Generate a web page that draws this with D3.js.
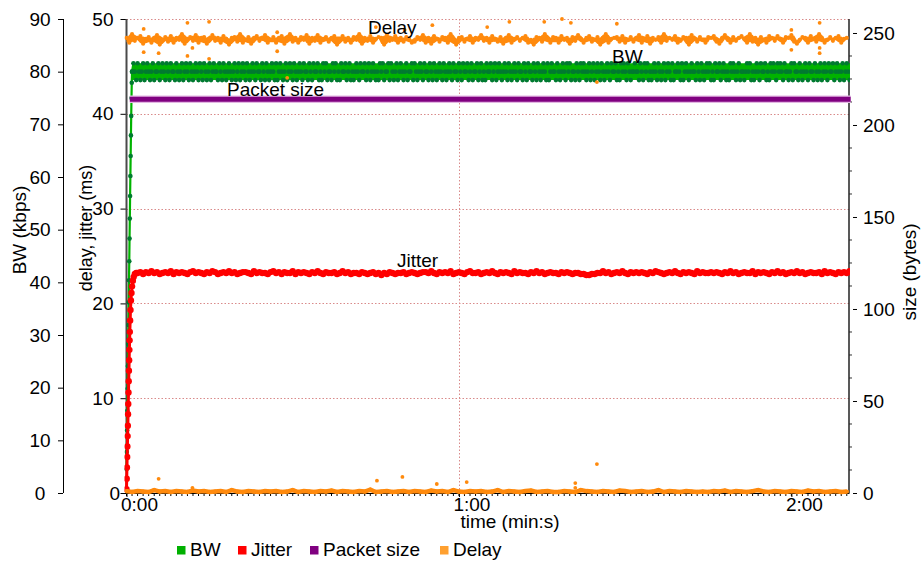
<!DOCTYPE html>
<html><head><meta charset="utf-8">
<script src="https://cdn.jsdelivr.net/npm/d3@7/dist/d3.min.js"></script>
<style>
html,body{margin:0;padding:0;background:#fff;}
svg{display:block;}
</style></head><body>
<svg id="chart" width="921" height="562"></svg>
<script>
// ---------- data ----------
const timeTicks = [0, 60, 120];
const timeTickLabels = ["0:00", "1:00", "2:00"];
const timeGridTicks = [60];
const bwTicks = [0, 10, 20, 30, 40, 50, 60, 70, 80, 90];
const msTicks = [0, 10, 20, 30, 40, 50];
const sizeTicks = [0, 50, 100, 150, 200, 250];
const seriesNames = ["BW", "Jitter", "Packet size", "Delay"];

// BW (kbps): start-up ramp, then steady samples every 0.25 s from t = 1.0 s
const bwRampTime  = [0.00,0.05,0.10,0.15,0.20,0.25,0.30,0.35,0.40,0.45,0.50,0.55,0.60,0.65,0.70,0.75,0.80,0.85,0.90,0.95,1.00];
const bwRampValue = [4.5,7.8,11.9,15.6,19.8,24.1,28.3,31.9,36.2,40.4,44.0,48.3,52.1,56.4,60.2,64.0,67.9,71.6,75.0,77.9,80.0];
const bwStart = 1.0, bwStep = 0.25;
const bwValues = [
80,81.6,80,78.4,81.6,80,78.4,80,81.6,78.4,80,81.6,80,78.4,80,81.6,78.4,80,80,81.6,78.4,80,81.6,80,78.4,81.6,
80,78.4,81.6,80,80,78.4,81.6,80,78.4,80,81.6,78.4,80,81.6,80,78.4,81.6,80,78.4,80,81.6,80,78.4,81.6,80,78.4,
81.6,80,78.4,80,81.6,78.4,80,81.6,80,80,78.4,81.6,80,78.4,81.6,80,78.4,80,81.6,80,78.4,80,81.6,78.4,80,81.6,
78.4,80,81.6,80,78.4,81.6,80,78.4,80,81.6,80,78.4,81.6,80,80,78.4,81.6,80,78.4,81.6,80,78.4,80,81.6,80,78.4,
81.6,78.4,80,81.6,80,78.4,80,81.6,78.4,80,81.6,80,78.4,81.6,80,78.4,80,81.6,80,78.4,81.6,80,80,78.4,81.6,80,
78.4,81.6,80,80,81.6,78.4,80,78.4,81.6,80,81.6,78.4,80,80,78.4,81.6,80,81.6,78.4,80,78.4,81.6,80,80,81.6,78.4,
80,81.6,78.4,80,78.4,80,81.6,80,78.4,81.6,80,80,81.6,78.4,80,81.6,78.4,80,81.6,80,78.4,80,78.4,81.6,80,81.6,
78.4,80,80,81.6,78.4,81.6,80,78.4,80,81.6,78.4,80,81.6,80,78.4,80,81.6,78.4,80,80,81.6,78.4,81.6,80,78.4,80,
81.6,80,78.4,81.6,80,80,78.4,81.6,80,78.4,81.6,80,78.4,80,81.6,80,78.4,81.6,80,78.4,80,81.6,80,78.4,81.6,80,
80,78.4,81.6,80,78.4,81.6,80,80,81.6,78.4,80,81.6,78.4,80,80,81.6,78.4,80,81.6,78.4,80,78.4,81.6,80,80,81.6,
78.4,80,81.6,78.4,80,81.6,80,78.4,80,81.6,80,78.4,81.6,80,78.4,80,81.6,80,78.4,81.6,80,80,78.4,81.6,80,78.4,
81.6,80,80,78.4,81.6,80,78.4,81.6,80,78.4,80,81.6,80,78.4,81.6,78.4,80,81.6,80,80,78.4,81.6,80,78.4,80,81.6,
80,78.4,81.6,80,81.6,78.4,80,80,78.4,81.6,80,78.4,81.6,80,81.6,80,78.4,80,81.6,78.4,80,81.6,78.4,80,81.6,80,
78.4,81.6,80,78.4,80,81.6,80,78.4,81.6,80,80,81.6,78.4,80,78.4,81.6,80,81.6,80,78.4,81.6,80,78.4,80,80,81.6,
80,80,78.4,81.6,80,78.4,81.6,80,81.6,78.4,80,78.4,80,81.6,80,78.4,81.6,80,78.4,80,81.6,78.4,80,81.6,80,78.4,
81.6,78.4,80,80,81.6,80,78.4,81.6,78.4,80,81.6,80,78.4,80,81.6,80,80,78.4,81.6,80,78.4,81.6,80,78.4,80,81.6,
80,81.6,78.4,80,78.4,81.6,80,80,81.6,78.4,80,81.6,80,78.4,80,78.4,81.6,80,81.6,80,78.4,80,81.6,78.4,80,80,
78.4,80,81.6,80,81.6,78.4,80,78.4,80,81.6,80,78.4,81.6,80,80,81.6,78.4,80,78.4,81.6,80,81.6,80,78.4,81.6,80,
81.6,80,78.4,81.6,80,80,78.4,80,81.6,78.4,81.6,80,80,78.4,81.6,80,78.4,80,81.6,80,78.4,81.6,80,80,78.4,81.6,
80,78.4,80,81.6,78.4,80,81.6,80,78.4,81.6,80,80,81.6,78.4,80,81.6,80,78.4,80,81.6,78.4,80,81.6,80,78.4,80
];

// Jitter (ms): start-up ramp, then samples every 0.5 s from t = 2.0 s
const jitterRampTime  = [0.00,0.04,0.08,0.12,0.16,0.20,0.24,0.28,0.32,0.36,0.40,0.44,0.48,0.52,0.56,0.60,0.66,0.72,0.80,0.90,1.00,1.15,1.30,1.50,1.75];
const jitterRampValue = [0.4,1.5,2.7,3.8,4.9,6.0,7.1,8.3,9.4,10.6,11.8,12.9,14.0,15.1,16.1,17.0,18.2,19.3,20.3,21.1,21.8,22.4,22.8,23.1,23.2];
const jitterStart = 2.0, jitterStep = 0.5;
const jitterValues = [
23.2,23.3,23.1,23.3,23.2,23.4,23.2,23.3,23.1,23.2,23.3,23.2,23.4,23.1,23.3,23.2,23.3,23.2,23.1,23.3,23.4,23.2,23.3,23.2,23.1,23.3,
23.2,23.4,23.3,23.1,23.2,23.3,23.2,23.4,23.2,23.3,23.1,23.2,23.3,23.3,23.2,23.1,23.4,23.2,23.3,23.2,23.2,23.1,23.3,23.4,23.2,23.3,
23.1,23.3,23.2,23.2,23.4,23.1,23.3,23.2,23.3,23.2,23.1,23.3,23.2,23.4,23.2,23.1,23.3,23.2,23.2,23.3,23.1,23.2,23.4,23.2,23.3,23.1,
23.2,23.2,23.1,23.3,23.2,23.1,23.2,23.3,23.1,23.2,23.0,23.2,23.1,23.3,23.2,23.1,23.2,23.2,23.3,23.1,23.2,23.3,23.2,23.1,23.2,23.3,
23.3,23.2,23.4,23.2,23.1,23.3,23.2,23.3,23.2,23.4,23.1,23.2,23.3,23.2,23.1,23.3,23.4,23.2,23.2,23.3,23.1,23.2,23.3,23.2,23.4,23.2,
23.1,23.3,23.2,23.3,23.2,23.1,23.4,23.2,23.3,23.2,23.2,23.1,23.3,23.2,23.4,23.2,23.3,23.1,23.2,23.3,23.2,23.2,23.1,23.3,23.2,23.3,
23.2,23.1,23.2,23.2,23.1,23.1,23.0,23.0,23.1,23.1,23.2,23.2,23.4,23.2,23.3,23.1,23.2,23.3,23.2,23.4,23.2,23.1,23.3,23.2,23.3,23.2,
23.3,23.2,23.1,23.3,23.2,23.4,23.3,23.2,23.1,23.2,23.3,23.2,23.4,23.2,23.1,23.3,23.2,23.3,23.2,23.1,23.4,23.2,23.3,23.2,23.2,23.3,
23.2,23.3,23.2,23.1,23.3,23.2,23.4,23.2,23.3,23.1,23.2,23.3,23.2,23.2,23.4,23.1,23.3,23.2,23.3,23.2,23.1,23.3,23.2,23.4,23.2,23.3,
23.1,23.2,23.3,23.2,23.4,23.2,23.3,23.1,23.2,23.3,23.2,23.2,23.3,23.1,23.4,23.2,23.3,23.2,23.1,23.3,23.2,23.3,23.2,23.4,23.2,23.3
];

// Packet size (bytes)
const packetSizeTime  = [0.6, 130.7];
const packetSizeValue = [214, 214];

// Delay (ms): samples every 0.5 s from t = 0
const delayStart = 0, delayStep = 0.5;
const delayValues = [
48.0,47.5,48.4,47.7,48.0,48.2,47.4,47.9,48.1,47.5,48.0,48.3,47.3,47.8,48.1,47.6,48.2,47.5,48.0,47.8,48.4,47.4,47.9,48.1,47.7,48.3,
47.5,48.0,48.1,47.4,47.8,48.3,47.7,48.0,47.5,48.2,47.9,47.3,48.0,48.1,47.6,48.4,47.5,47.8,48.1,47.4,48.0,48.2,47.7,47.9,48.3,47.5,
47.8,48.1,47.5,48.0,48.2,47.4,47.9,48.4,47.6,48.0,47.5,48.1,47.8,48.3,47.4,48.0,47.7,48.3,47.5,47.9,48.1,47.6,48.0,48.2,47.3,47.8,
48.2,47.6,48.0,47.5,48.1,47.8,48.4,47.4,48.0,47.7,48.2,47.5,47.9,48.1,48.0,47.3,48.3,47.7,47.8,48.2,47.5,48.0,47.6,48.1,47.9,47.5,
47.6,48.1,47.8,48.3,47.5,48.0,47.4,48.2,47.9,47.6,48.1,48.0,47.5,48.4,47.8,47.3,48.0,48.1,47.6,47.9,48.2,47.5,48.0,47.8,48.3,47.7,
48.0,47.5,48.2,47.8,47.6,48.1,47.4,48.0,48.3,47.5,47.9,48.1,47.7,48.0,48.2,47.5,47.8,47.3,48.1,48.0,47.6,48.4,47.9,47.5,48.1,48.0,
47.5,48.2,47.8,48.0,47.4,48.1,47.7,48.3,47.9,47.5,48.0,48.2,47.6,47.8,48.1,47.3,48.0,48.4,47.5,47.9,48.0,48.1,47.6,48.2,47.5,47.8,
48.1,47.6,48.0,48.3,47.5,47.9,48.2,47.4,48.0,47.8,48.1,47.5,48.4,47.7,48.0,47.8,48.2,47.5,47.7,48.1,48.0,47.3,48.3,47.9,47.6,48.1,
47.8,47.5,48.1,48.0,48.2,47.6,47.4,48.0,48.3,47.8,47.5,48.1,47.7,48.0,48.2,47.9,47.5,48.4,47.6,48.0,47.3,48.1,47.8,47.5,48.2,48.0,
47.7,48.2,47.9,47.5,48.1,48.0,48.3,47.6,47.4,47.8,48.1,48.0,47.5,48.2,47.9,47.6,48.4,48.0,47.5,47.8,48.1,47.7,48.0,48.2,47.5,47.9,
48.0
];
const delayOutlierTime  = [3.1,3.1,5.8,11.0,11.0,11.9,14.9,14.9,27.2,27.2,29.0,45.0,50.2,55.2,65.1,69.1,75.4,78.6,80.2,84.9,88.5,120.0,120.0,125.1,125.1,125.1];
const delayOutlierValue = [48.95,46.5,46.4,49.6,46.1,46.95,49.7,45.8,48.6,46.6,43.8,49.15,48.85,49.35,49.15,49.7,49.7,50.0,49.6,43.35,49.5,48.85,46.75,49.6,46.95,46.4];

// Delay, lower trace (ms): samples every 1 s from t = 0
const delayLowStart = 0, delayLowStep = 1;
const delayLowValues = [
0.2,0.1,0.2,0.15,0.1,0.3,0.15,0.2,0.1,0.2,0.15,0.1,0.25,0.15,0.2,0.1,0.15,0.2,0.1,0.3,0.15,0.1,0.2,0.15,0.1,0.2,
0.15,0.2,0.1,0.15,0.3,0.1,0.2,0.15,0.1,0.2,0.15,0.25,0.1,0.2,0.15,0.1,0.2,0.15,0.35,0.1,0.15,0.2,0.1,0.15,0.2,0.1,
0.2,0.15,0.1,0.25,0.15,0.2,0.1,0.3,0.15,0.1,0.2,0.15,0.2,0.1,0.15,0.3,0.1,0.2,0.15,0.1,0.2,0.25,0.1,0.15,0.2,0.1,
0.1,0.2,0.15,0.1,0.3,0.2,0.15,0.1,0.2,0.15,0.1,0.25,0.2,0.1,0.15,0.2,0.1,0.15,0.3,0.1,0.2,0.15,0.1,0.2,0.15,0.1,
0.15,0.1,0.2,0.15,0.25,0.1,0.2,0.15,0.1,0.2,0.3,0.15,0.1,0.2,0.15,0.1,0.2,0.15,0.1,0.25,0.15,0.2,0.1,0.15,0.2,0.1,
0.15
];
const delayLowOutlierTime  = [5.8, 11.9, 45.2, 49.8, 56.0, 61.4, 81.0, 81.0, 84.9];
const delayLowOutlierValue = [1.5, 0.55, 1.3, 1.7, 0.95, 1.15, 1.05, 0.55, 3.05];

// ---------- chart ----------
const FONT = '"Liberation Sans", Arial, Helvetica, sans-serif';
const C = { bwLine: "#00b300", bwDot: "#007a30", jitter: "#ff0000", packet: "#800080", packetEdge: "#e3b6e3",
            delay: "#ff8a0d", grid: "#d98a8a", legBW: "#00b000", legJit: "#ff0000", legPkt: "#800080", legDel: "#ffa030" };

const svg = d3.select("#chart").attr("font-family", FONT);
const x = d3.scaleLinear().domain([0, 130.4]).range([126.5, 849]);
const yBW = d3.scaleLinear().domain([0, 90]).range([493, 19]);
const yMs = d3.scaleLinear().domain([0, 50]).range([493, 19]);
const ySize = d3.scaleLinear().domain([0, 257.6]).range([493, 19]);
const [xl, xr] = x.range();
const [yb, yt] = yMs.range();

// rolling envelope of a sampled series (min/max over a small neighbourhood)
function envelope(data, k) {
  return data.map((d, i) => {
    const w = data.slice(Math.max(0, i - k), i + k + 1).map(e => e.v);
    return { t: d.t, lo: d3.min(w), hi: d3.max(w) };
  });
}

// grid
const grid = svg.append("g").attr("stroke", C.grid).attr("stroke-width", 1).attr("stroke-dasharray", "1.5,2");
grid.selectAll("line.h").data(msTicks.filter(d => d > 0)).join("line").attr("class", "h")
  .attr("x1", xl).attr("x2", xr).attr("y1", d => Math.round(yMs(d)) + 0.5).attr("y2", d => Math.round(yMs(d)) + 0.5);
grid.selectAll("line.v").data(timeGridTicks).join("line").attr("class", "v")
  .attr("x1", d => Math.round(x(d)) + 0.5).attr("x2", d => Math.round(x(d)) + 0.5).attr("y1", yt).attr("y2", yb);

// left BW axis
const gL = svg.append("g").attr("transform", "translate(63,0)")
  .call(d3.axisLeft(yBW).tickValues(bwTicks).tickSize(5).tickSizeOuter(0));
gL.select(".domain").remove();
gL.attr("font-family", FONT).attr("font-size", 19);
gL.selectAll("text").attr("text-anchor", "middle").attr("x", -23).attr("fill", "#000");
gL.append("line").attr("x1", 0.5).attr("x2", 0.5).attr("y1", yb).attr("y2", yt).attr("stroke", "#000");

// middle ms axis
const gM = svg.append("g").attr("transform", `translate(${xl},0)`)
  .call(d3.axisLeft(yMs).tickValues(msTicks).tickSize(6).tickPadding(7).tickSizeOuter(0));
gM.select(".domain").remove();
gM.attr("font-family", FONT).attr("font-size", 19);
gM.selectAll("text").attr("fill", "#000").filter(d => d === 0).attr("x", -6.5);
gM.append("line").attr("x1", 0).attr("x2", 0).attr("y1", yb).attr("y2", yt).attr("stroke", "#4a4a4a").attr("stroke-width", 2);

// right size axis
const gR = svg.append("g").attr("transform", `translate(${xr},0)`)
  .call(d3.axisRight(ySize).tickValues(sizeTicks).tickSize(0).tickPadding(14).tickSizeOuter(0));
gR.select(".domain").remove();
gR.attr("font-family", FONT).attr("font-size", 19);
gR.selectAll("text").attr("fill", "#000");
gR.selectAll(".tick").append("line").attr("x1", 4).attr("x2", 8).attr("stroke", "#000");
gR.selectAll("line.minor").data(d3.range(12.5, 257, 12.5).filter(d => d % 50 !== 0)).join("line").attr("class", "minor")
  .attr("x1", 0).attr("x2", 3).attr("y1", d => ySize(d)).attr("y2", d => ySize(d)).attr("stroke", "#333");
gR.append("line").attr("x1", 0).attr("x2", 0).attr("y1", yb).attr("y2", yt).attr("stroke", "#222").attr("stroke-width", 1.5);

// bottom time axis
const gB = svg.append("g").attr("transform", `translate(0,${yb})`)
  .call(d3.axisBottom(x).tickValues(timeTicks).tickFormat((d, i) => timeTickLabels[i]).tickSize(4).tickSizeOuter(0));
gB.select(".domain").attr("stroke", "#000");
gB.attr("font-family", FONT).attr("font-size", 19);
gB.selectAll("text").attr("text-anchor", "start").attr("x", -6).attr("y", 5).attr("fill", "#000");
gB.selectAll("line.minor").data(d3.range(0, 131, 1)).join("line").attr("class", "minor")
  .attr("x1", d => x(d)).attr("x2", d => x(d)).attr("y1", 0).attr("y2", 3).attr("stroke", "#000").attr("stroke-width", 1);

// clip
svg.append("clipPath").attr("id", "plotclip").append("rect").attr("x", xl - 2).attr("y", 0).attr("width", xr - xl + 3).attr("height", yb + 4);
const plot = svg.append("g").attr("clip-path", "url(#plotclip)");

// BW
const bwData = bwRampTime.map((t, i) => ({ t, v: bwRampValue[i] }))
  .concat(bwValues.map((v, i) => ({ t: bwStart + i * bwStep, v })));
const bwSteady = bwData.slice(bwRampTime.length);
plot.append("path").datum(envelope(bwSteady, 3))
  .attr("d", d3.area().x(d => x(d.t)).y0(d => yBW(d.lo)).y1(d => yBW(d.hi)))
  .attr("fill", C.bwLine);
const lineBW = d3.line().x(d => x(d.t)).y(d => yBW(d.v));
plot.append("path").datum(bwData).attr("d", lineBW).attr("fill", "none").attr("stroke", C.bwLine).attr("stroke-width", 2.2);
plot.append("g").selectAll("circle").data(bwData).join("circle")
  .attr("cx", d => x(d.t)).attr("cy", d => yBW(d.v)).attr("r", 2.3).attr("fill", C.bwDot);

// Packet size
const pktData = packetSizeTime.map((t, i) => ({ t, v: packetSizeValue[i] }));
const linePkt = d3.line().x(d => x(d.t)).y(d => ySize(d.v));
svg.append("path").datum(pktData).attr("d", linePkt).attr("stroke", C.packetEdge).attr("stroke-width", 7.5).attr("fill", "none");
svg.append("path").datum(pktData).attr("d", linePkt).attr("stroke", C.packet).attr("stroke-width", 5).attr("fill", "none");

// Jitter
const jitData = jitterRampTime.map((t, i) => ({ t, v: jitterRampValue[i] }))
  .concat(jitterValues.map((v, i) => ({ t: jitterStart + i * jitterStep, v })));
const lineMs = d3.line().x(d => x(d.t)).y(d => yMs(d.v));
plot.append("path").datum(jitData).attr("d", lineMs).attr("fill", "none").attr("stroke", C.jitter).attr("stroke-width", 3);
plot.append("g").selectAll("circle").data(jitData).join("circle")
  .attr("cx", d => x(d.t)).attr("cy", d => yMs(d.v)).attr("r", 3.2).attr("fill", C.jitter);

// Delay (upper)
const delData = delayValues.map((v, i) => ({ t: delayStart + i * delayStep, v }));
plot.append("path").datum(envelope(delData, 1))
  .attr("d", d3.area().x(d => x(d.t)).y0(d => yMs(d.lo) - 0.5).y1(d => yMs(d.hi) + 0.5))
  .attr("fill", C.delay);
plot.append("g").selectAll("circle").data(delData).join("circle")
  .attr("cx", d => x(d.t)).attr("cy", d => yMs(d.v)).attr("r", 2.1).attr("fill", C.delay);
plot.append("g").selectAll("circle").data(delayOutlierTime.map((t, i) => ({ t, v: delayOutlierValue[i] }))).join("circle")
  .attr("cx", d => x(d.t)).attr("cy", d => yMs(d.v)).attr("r", 1.9).attr("fill", C.delay);

// Delay (lower)
const delLowData = delayLowValues.map((v, i) => ({ t: delayLowStart + i * delayLowStep, v }));
plot.append("path").datum(delLowData).attr("d", lineMs).attr("fill", "none").attr("stroke", C.delay).attr("stroke-width", 4.5);
plot.append("g").selectAll("circle").data(delLowData).join("circle")
  .attr("cx", d => x(d.t)).attr("cy", d => yMs(d.v)).attr("r", 2.2).attr("fill", C.delay);
plot.append("g").selectAll("circle").data(delayLowOutlierTime.map((t, i) => ({ t, v: delayLowOutlierValue[i] }))).join("circle")
  .attr("cx", d => x(d.t)).attr("cy", d => yMs(d.v)).attr("r", 1.9).attr("fill", C.delay);

// in-plot series labels
const labels = svg.append("g").attr("font-size", 19).attr("fill", "#000");
labels.append("text").attr("x", 368).attr("y", 34).text(seriesNames[3]);
labels.append("text").attr("x", 612).attr("y", 63).text(seriesNames[0]);
labels.append("text").attr("x", 227).attr("y", 96).text(seriesNames[2]);
labels.append("text").attr("x", 397).attr("y", 267).text(seriesNames[1]);

// axis titles
svg.append("text").attr("transform", "translate(26,230) rotate(-90)").attr("text-anchor", "middle").attr("font-size", 19).text("BW (kbps)");
svg.append("text").attr("transform", "translate(92,228) rotate(-90)").attr("text-anchor", "middle").attr("font-size", 18).text("delay, jitter (ms)");
svg.append("text").attr("transform", "translate(916,272) rotate(-90)").attr("text-anchor", "middle").attr("font-size", 19).text("size (bytes)");
svg.append("text").attr("x", 510).attr("y", 528).attr("text-anchor", "middle").attr("font-size", 19).text("time (min:s)");

// legend
const legendColors = [C.legBW, C.legJit, C.legPkt, C.legDel];
const legendX = [177, 238, 310, 440];
const leg = svg.append("g").attr("font-size", 19);
seriesNames.forEach((name, i) => {
  leg.append("rect").attr("x", legendX[i]).attr("y", 546).attr("width", 8.5).attr("height", 8.5).attr("fill", legendColors[i]);
  leg.append("text").attr("x", legendX[i] + 13).attr("y", 555.5).text(name);
});
</script>
</body></html>
